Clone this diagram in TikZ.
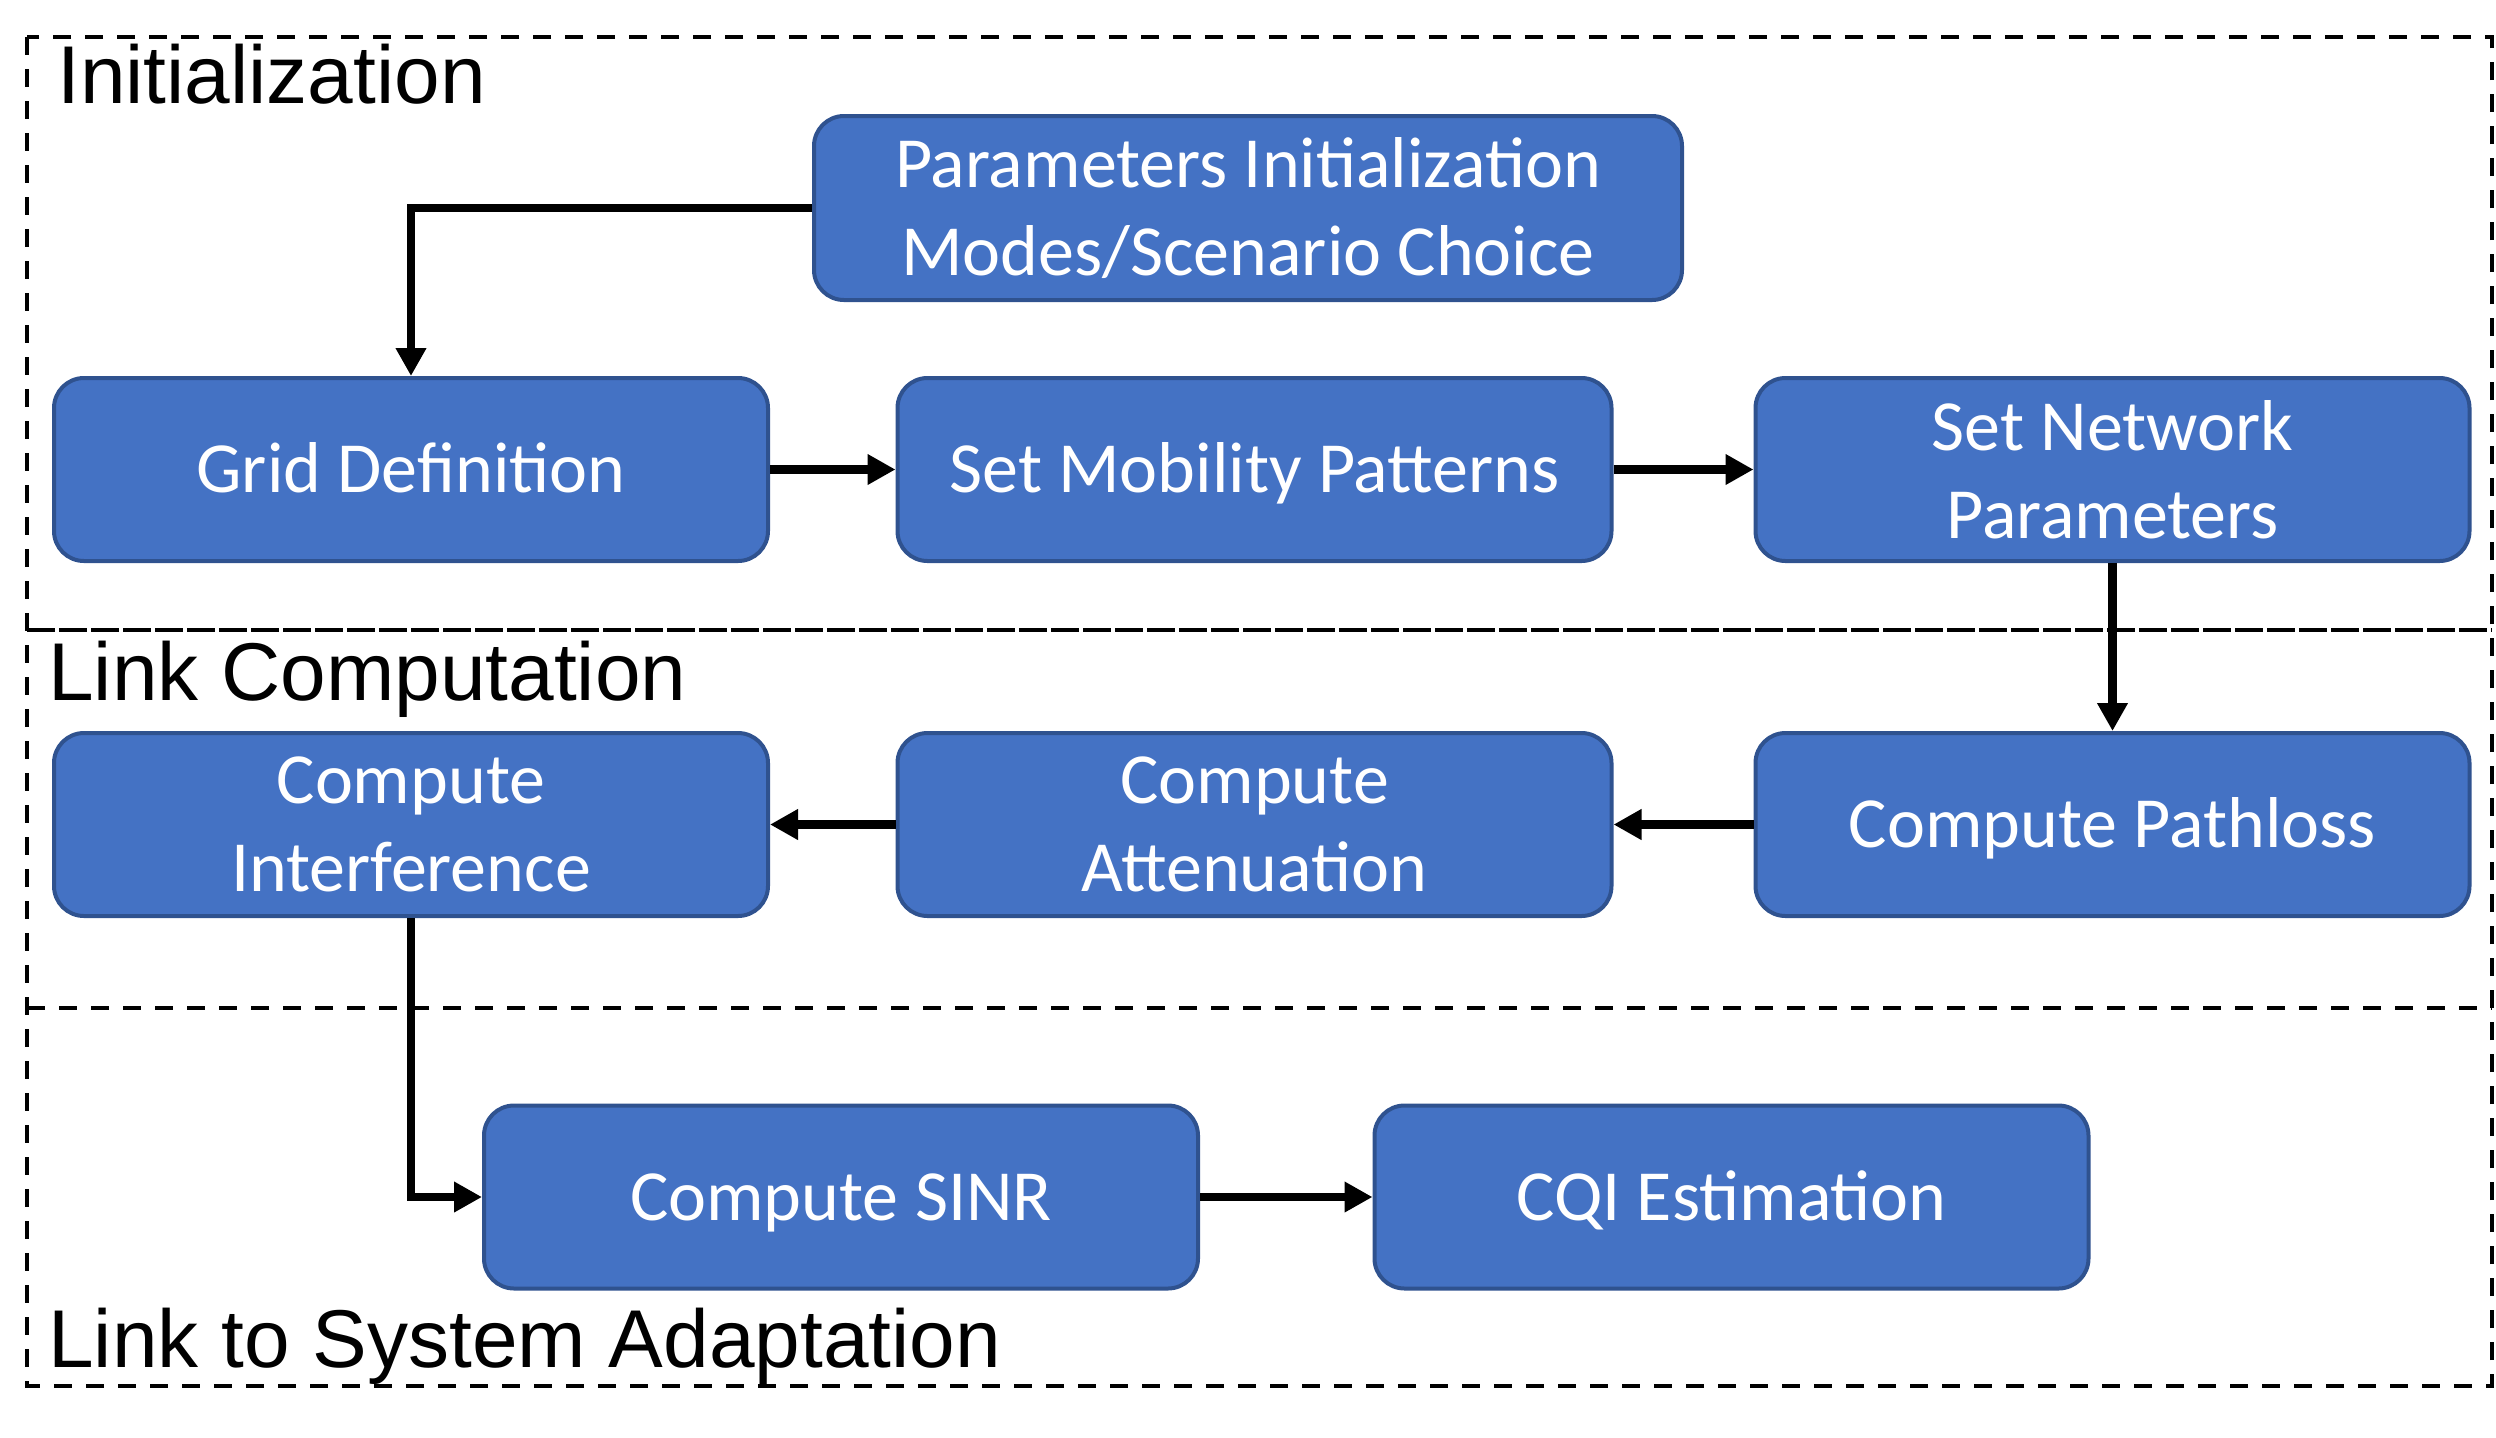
\documentclass[tikz,border=0pt]{standalone}
\usepackage{fontspec}
\setmainfont{Liberation Sans}
\newfontfamily\boxfont{Carlito}
\usetikzlibrary{arrows.meta}
\definecolor{boxfill}{HTML}{4472C4}
\definecolor{boxline}{HTML}{2F528F}
\newcommand\capline[1]{\raisebox{0pt}[23.2pt][0pt]{#1}}
\begin{document}
\begin{tikzpicture}[x=0.5pt,y=-0.5pt,
  procbox/.style={draw=boxline, fill=boxfill, line width=2pt, rounded corners=15pt,
    minimum width=357pt, minimum height=91.5pt, text=white,
    font=\boxfont\fontsize{36}{44}\selectfont, align=center, inner sep=0pt},
  arr/.style={line width=4.25pt, -{Triangle[length=14pt,width=14.5pt]}},
  region/.style={line width=2.3pt, dash pattern=on 9pt off 7pt},
  longdash/.style={line width=2.3pt, dash pattern=on 14pt off 2pt},
  lbl/.style={font=\fontsize{41}{49}\selectfont, inner sep=0pt, anchor=base west}]
\useasboundingbox (0,0) rectangle (2496,1437);
% region frames
\draw[region] (27,37) rectangle (2492,1386);
\coordinate (d1l) at (27,630);
\coordinate (d1r) at (2492,630);
\coordinate (d2l) at (27,1008);
\coordinate (d2r) at (2492,1008);
\draw[longdash] (d1l) -- (d1r);
\draw[region] (d2l) -- (d2r);
% region labels
\node[lbl] (linit) at (57,103) {Initialization};
\node[lbl] (llink) at (48,700) {Link Computation};
\node[lbl] (lsys) at (48,1367) {Link to System Adaptation};
% boxes
\node[procbox, minimum width=434pt, minimum height=92pt] (params) at (1248,208)
  {Parameters Initialization\\Modes/Scenario Choice};
\node[procbox] (grid) at (411,469.5) {\capline{Grid Definition}};
\node[procbox] (mob) at (1254.5,469.5) {\capline{Set Mobility Patterns}};
\node[procbox] (net) at (2112.5,469.5) {Set Network\\Parameters};
\node[procbox] (interf) at (411,824.5) {Compute\\Interference};
\node[procbox] (atten) at (1254.5,824.5) {Compute\\Attenuation};
\node[procbox] (path) at (2112.5,824.5) {\capline{Compute Pathloss}};
\node[procbox] (sinr) at (841,1197) {\capline{Compute SINR}};
\node[procbox] (cqi) at (1731.5,1197) {\capline{CQI Estimation}};
% connectors
\draw[arr] (params.west) -| (grid.north);
\draw[arr] (grid.east) -- (mob.west);
\draw[arr] (mob.east) -- (net.west);
\draw[arr] (net.south) -- (path.north);
\draw[arr] (path.west) -- (atten.east);
\draw[arr] (atten.west) -- (interf.east);
\draw[arr] (interf.south) |- (sinr.west);
\draw[arr] (sinr.east) -- (cqi.west);
\end{tikzpicture}
\end{document}
